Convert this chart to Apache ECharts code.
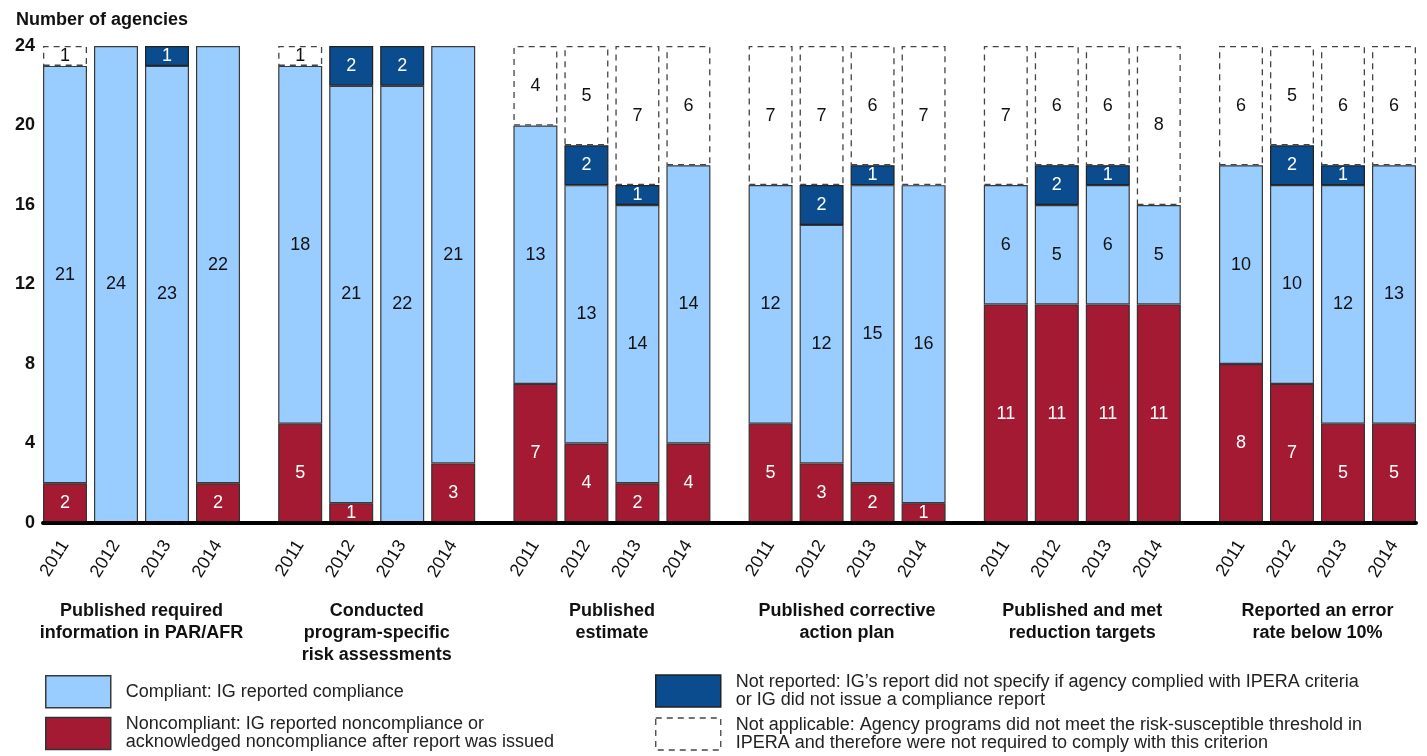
<!DOCTYPE html>
<html>
<head>
<meta charset="utf-8">
<script src="https://cdn.jsdelivr.net/npm/echarts@6/dist/echarts.min.js"></script>
<style>
	html, body { margin: 0; padding: 0; background: #fff; }
	#chart { width: 1427px; height: 756px; }
</style>
</head>
<body>
<div id="chart"></div>
<script>
// data
let years = ["2011", "2012", "2013", "2014"];
let groups = [
	"Published required\ninformation in PAR/AFR",
	"Conducted\nprogram-specific\nrisk assessments",
	"Published\nestimate",
	"Published corrective\naction plan",
	"Published and met\nreduction targets",
	"Reported an error\nrate below 10%",
];
let yTicks = [0, 4, 8, 12, 16, 20, 24];

// one row per group, one value per year
let noncompliant = [
	[2, 0, 0, 2],
	[5, 1, 0, 3],
	[7, 4, 2, 4],
	[5, 3, 2, 1],
	[11, 11, 11, 11],
	[8, 7, 5, 5],
];
let compliant = [
	[21, 24, 23, 22],
	[18, 21, 22, 21],
	[13, 13, 14, 14],
	[12, 12, 15, 16],
	[6, 5, 6, 5],
	[10, 10, 12, 13],
];
let notReported = [
	[0, 0, 1, 0],
	[0, 2, 2, 0],
	[0, 2, 1, 0],
	[0, 2, 1, 0],
	[0, 2, 1, 0],
	[0, 2, 1, 0],
];
let notApplicable = [
	[1, 0, 0, 0],
	[1, 0, 0, 0],
	[4, 5, 7, 6],
	[7, 7, 6, 7],
	[7, 6, 6, 8],
	[6, 5, 6, 6],
];

let legendText = {
	"Compliant": "Compliant: IG reported compliance",
	"Noncompliant": "Noncompliant: IG reported noncompliance or\nacknowledged noncompliance after report was issued",
	"Not reported": "Not reported: IG\u2019s report did not specify if agency complied with IPERA criteria\nor IG did not issue a compliance report",
	"Not applicable": "Not applicable: Agency programs did not meet the risk-susceptible threshold in\nIPERA and therefore were not required to comply with this criterion",
};

function buildChart() {
	let dom = document.getElementById("chart");
	let myChart = echarts.init(dom, null, { renderer: "canvas" });

	let font = "Liberation Sans, Arial, sans-serif";
	let yMax = yTicks[yTicks.length - 1];
	let gridTop = 46;
	let gridBottom = 233;
	let groupPitch = 235.2;
	let groupLeft = 39.5;
	let groupWidth = 204;

	let grids = [];
	let xAxes = [];
	let yAxes = [];
	let series = [];

	// stack layers, bottom to top
	let layers = [
		{ name: "Noncompliant", values: noncompliant, color: "#a31a32", border: "#333", width: 1.2, dash: "solid", text: "#fff" },
		{ name: "Compliant", values: compliant, color: "#99ccff", border: "#3a3a3a", width: 1.2, dash: "solid", text: "#111" },
		{ name: "Not reported", values: notReported, color: "#0b4c8e", border: "#222", width: 1.2, dash: "solid", text: "#fff" },
		{ name: "Not applicable", values: notApplicable, color: "#ffffff", border: "#444", width: 1.3, dash: [6, 5], text: "#111" },
	];

	groups.forEach(function (g, gi) {
		grids.push({
			left: groupLeft + gi * groupPitch,
			width: groupWidth,
			top: gridTop,
			bottom: gridBottom,
		});
		xAxes.push({
			type: "category",
			gridIndex: gi,
			data: years,
			axisLine: { show: false },
			axisTick: { show: false },
			axisLabel: {
				rotate: 58,
				margin: 19,
				fontSize: 18,
				fontFamily: font,
				color: "#111",
			},
			name: g,
			nameLocation: "middle",
			nameGap: 77,
			nameTextStyle: {
				fontSize: 18,
				fontWeight: "bold",
				fontFamily: font,
				color: "#111",
				lineHeight: 22,
			},
		});
		yAxes.push({
			type: "value",
			gridIndex: gi,
			min: 0,
			max: yMax,
			show: false,
		});
		layers.forEach(function (layer) {
			series.push({
				name: layer.name,
				type: "bar",
				xAxisIndex: gi,
				yAxisIndex: gi,
				stack: "g" + gi,
				barWidth: 44,
				data: layer.values[gi].map(function (v) { return v === 0 ? "-" : v; }),
				itemStyle: {
					color: layer.color,
					borderColor: layer.border,
					borderWidth: layer.width,
					borderType: layer.dash,
				},
				label: {
					show: true,
					position: "inside",
					fontSize: 18,
					fontFamily: font,
					color: layer.text,
					formatter: function (p) { return p.value ? String(p.value) : ""; },
				},
				emphasis: { disabled: true },
				animation: false,
			});
		});
	});

	// one extra grid for the y labels and the thick zero line across all groups
	let gi = groups.length;
	grids.push({ left: 43, right: 11, top: gridTop, bottom: gridBottom });
	xAxes.push({
		type: "category",
		gridIndex: gi,
		data: [""],
		z: 10,
		axisLine: { show: true, lineStyle: { color: "#000", width: 4 } },
		axisTick: { show: false },
		axisLabel: { show: false },
	});
	yAxes.push({
		type: "value",
		gridIndex: gi,
		min: 0,
		max: yMax,
		interval: yTicks[1] - yTicks[0],
		axisLine: { show: false },
		axisTick: { show: false },
		splitLine: { show: false },
		axisLabel: {
			margin: 8,
			fontSize: 18,
			fontWeight: "bold",
			fontFamily: font,
			color: "#111",
		},
	});

	let legendBase = {
		orient: "vertical",
		icon: "rect",
		padding: 0,
		itemWidth: 65,
		itemHeight: 32,
		itemGap: 7,
		selectedMode: false,
		formatter: function (name) { return legendText[name]; },
		textStyle: { fontSize: 18, fontFamily: font, color: "#222", lineHeight: 18, padding: [0, 0, 0, 10] },
	};

	let option = {
		animation: false,
		title: {
			text: "Number of agencies",
			left: 11,
			top: 6,
			textStyle: { fontSize: 18, fontWeight: "bold", fontFamily: font, color: "#111" },
		},
		grid: grids,
		xAxis: xAxes,
		yAxis: yAxes,
		legend: [
			Object.assign({}, legendBase, {
				left: 45,
				top: 675,
				data: [
					{ name: "Compliant", itemStyle: { color: "#99ccff", borderColor: "#3a3a3a", borderWidth: 1.5 } },
					{ name: "Noncompliant", itemStyle: { color: "#a31a32", borderColor: "#333", borderWidth: 1.5 } },
				],
			}),
			Object.assign({}, legendBase, {
				left: 655,
				top: 673,
				data: [
					{ name: "Not reported", itemStyle: { color: "#0b4c8e", borderColor: "#222", borderWidth: 1.5 } },
					{ name: "Not applicable", itemStyle: { color: "#fff", borderColor: "#444", borderWidth: 1.3, borderType: [6, 5] } },
				],
			}),
		],
		series: series,
	};

	myChart.setOption(option);
	window.addEventListener("resize", myChart.resize);
}

buildChart();
</script>
</body>
</html>
